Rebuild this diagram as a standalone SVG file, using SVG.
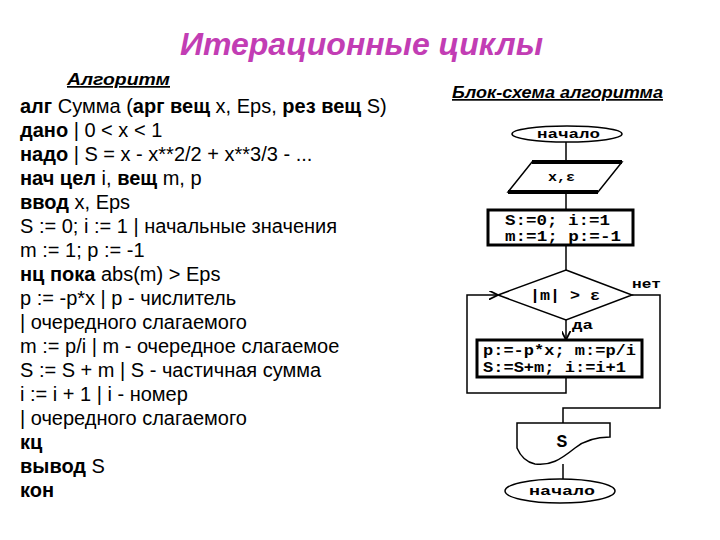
<svg xmlns="http://www.w3.org/2000/svg" width="720" height="540" viewBox="0 0 720 540">
<style>
.title{font-family:"Liberation Sans",Arial,sans-serif;font-size:31px;font-weight:bold;font-style:italic;fill:#C23DB4}
.hdr{font-family:"Liberation Sans",Arial,sans-serif;font-size:17px;font-weight:bold;font-style:italic;fill:#000;text-decoration:underline}
.code{font-family:"Liberation Sans",Arial,sans-serif;font-size:20px;fill:#000}
.b{font-weight:bold}
.fc{font-family:"Liberation Mono","Courier New",monospace;font-size:14px;font-weight:bold;fill:#000}
.sm{font-size:13px}
.big{font-size:18px}
.lbl{font-family:"Liberation Mono","Courier New",monospace;font-size:12px;font-weight:bold;fill:#000}
.shape{fill:#fff;stroke:#000;stroke-width:1.5}
.thick{fill:#fff;stroke:#000;stroke-width:3}
.line{fill:none;stroke:#000;stroke-width:1.5}
.bar{stroke:#000;stroke-width:4}
</style>
<defs>
<marker id="arr" viewBox="0 0 10 10" refX="9" refY="5" markerWidth="6" markerHeight="6" orient="auto">
<path d="M0,0 L10,5 L0,10" fill="none" stroke="#000" stroke-width="2"/>
</marker>
</defs>
<rect width="720" height="540" fill="#fff"/>
<text class="title" x="180" y="55" textLength="363" lengthAdjust="spacingAndGlyphs">Итерационные циклы</text>
<text class="hdr" x="67" y="85" textLength="103" lengthAdjust="spacingAndGlyphs">Алгоритм</text>
<text class="hdr" x="452" y="98" textLength="211" lengthAdjust="spacingAndGlyphs">Блок-схема алгоритма</text>
<g id="code">
<text class="code" x="20" y="113"><tspan class="b">алг</tspan> Сумма (<tspan class="b">арг вещ</tspan> x, Eps, <tspan class="b">рез вещ</tspan> S)</text>
<text class="code" x="20" y="137"><tspan class="b">дано</tspan> | 0 &lt; x &lt; 1</text>
<text class="code" x="20" y="161"><tspan class="b">надо</tspan> | S = x - x**2/2 + x**3/3 - ...</text>
<text class="code" x="20" y="185"><tspan class="b">нач цел</tspan> i, <tspan class="b">вещ</tspan> m, p</text>
<text class="code" x="20" y="209"><tspan class="b">ввод</tspan> x, Eps</text>
<text class="code" x="20" y="233">S := 0; i := 1 | начальные значения</text>
<text class="code" x="20" y="257">m := 1; p := -1</text>
<text class="code" x="20" y="281"><tspan class="b">нц пока</tspan> abs(m) &gt; Eps</text>
<text class="code" x="20" y="305">p := -p*x | p - числитель</text>
<text class="code" x="20" y="329">| очередного слагаемого</text>
<text class="code" x="20" y="353">m := p/i | m - очередное слагаемое</text>
<text class="code" x="20" y="377">S := S + m | S - частичная сумма</text>
<text class="code" x="20" y="401">i := i + 1 | i - номер</text>
<text class="code" x="20" y="425">| очередного слагаемого</text>
<text class="code b" x="20" y="449">кц</text>
<text class="code" x="20" y="473"><tspan class="b">вывод</tspan> S</text>
<text class="code b" x="20" y="497">кон</text>
</g>
<g id="connectors">
<line class="line" x1="566" y1="142" x2="566" y2="162"/>
<line class="line" x1="566" y1="192" x2="566" y2="210"/>
<line class="line" x1="566" y1="245" x2="566" y2="270"/>
<line class="line" x1="566" y1="320" x2="566" y2="339" marker-end="url(#arr)"/>
<polyline class="line" points="566,377 566,393 467,393 467,295 497,295" marker-end="url(#arr)"/>
<polyline class="line" points="632,295 660,295 660,408 563,408 563,423" stroke-width="2.5"/>
<line class="line" x1="563" y1="464" x2="563" y2="479"/>
<text class="lbl" x="632" y="288" textLength="29" lengthAdjust="spacingAndGlyphs">нет</text>
<text class="lbl" x="572" y="329" textLength="21" lengthAdjust="spacingAndGlyphs">да</text>
</g>
<g id="start">
<ellipse class="shape" cx="567" cy="134" rx="55" ry="8"/>
<text class="fc sm" x="537" y="138" textLength="63" lengthAdjust="spacingAndGlyphs">начало</text>
</g>
<g id="input">
<polygon class="shape" points="532,162 622,162 598,192 508,192"/>
<line class="bar" x1="532" y1="162" x2="622" y2="162"/>
<line class="bar" x1="508" y1="192" x2="598" y2="192"/>
<text class="fc sm" x="548" y="181" textLength="27" lengthAdjust="spacingAndGlyphs">x,ε</text>
</g>
<g id="init">
<rect class="thick" x="488" y="210" width="145" height="35"/>
<text class="fc" x="505" y="225" textLength="105" lengthAdjust="spacingAndGlyphs">S:=0;  i:=1</text>
<text class="fc" x="505" y="241" textLength="116" lengthAdjust="spacingAndGlyphs">m:=1; p:=-1</text>
</g>
<g id="cond">
<polygon class="shape" points="566,270 632,295 566,320 498,295"/>
<text class="fc" x="530" y="300" textLength="70" lengthAdjust="spacingAndGlyphs">|m| &gt; ε</text>
</g>
<g id="body">
<rect class="thick" x="477" y="340" width="165" height="37"/>
<text class="fc" x="483" y="355" textLength="153" lengthAdjust="spacingAndGlyphs">p:=-p*x; m:=p/i</text>
<text class="fc" x="483" y="372" textLength="143" lengthAdjust="spacingAndGlyphs">S:=S+m; i:=i+1</text>
</g>
<g id="output">
<path class="shape" d="M517,423 H610 V437 C595,437 585,440 575,448 C560,460 550,466 535,464 C525,462 520,455 517,448 Z"/>
<text class="fc big" x="562" y="447" text-anchor="middle">S</text>
</g>
<g id="end">
<ellipse class="shape" cx="560" cy="491" rx="55" ry="12"/>
<text class="fc sm" x="529" y="495" textLength="66" lengthAdjust="spacingAndGlyphs">начало</text>
</g>
</svg>
